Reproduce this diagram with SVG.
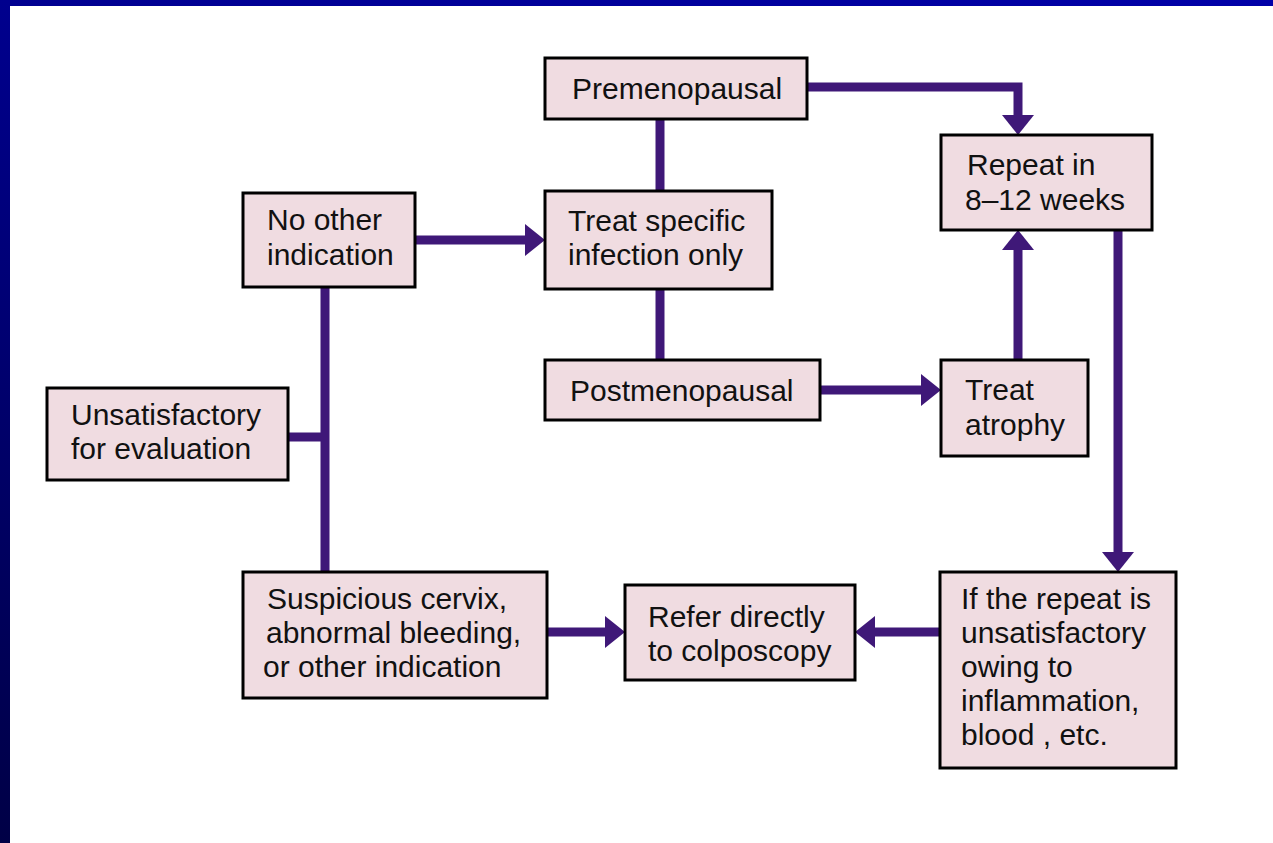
<svg xmlns="http://www.w3.org/2000/svg" width="1273" height="843" viewBox="0 0 1273 843">
<defs>
<linearGradient id="lg" x1="0" y1="0" x2="0" y2="1"><stop offset="0" stop-color="#00008e"/><stop offset="1" stop-color="#000046"/></linearGradient>
<linearGradient id="tg" x1="0" y1="0" x2="1" y2="0"><stop offset="0" stop-color="#000090"/><stop offset="1" stop-color="#0000a8"/></linearGradient>
<marker id="ah" viewBox="0 0 20 32" refX="0" refY="16" markerWidth="20" markerHeight="32" markerUnits="userSpaceOnUse" orient="auto"><path d="M0,0 L20,16 L0,32 Z" fill="#3f1878"/></marker>
<style>
.box{fill:#f0dce1;stroke:#000;stroke-width:3}
.t{font-family:"Liberation Sans",Arial,sans-serif;font-size:30px;fill:#111}
.c{fill:none;stroke:#3f1878;stroke-width:9}
</style>
</defs>
<rect width="1273" height="843" fill="#ffffff"/>
<rect x="0" y="0" width="1273" height="6" fill="url(#tg)"/>
<rect x="0" y="0" width="10" height="843" fill="url(#lg)"/>
<g id="connectors">
<path class="c" d="M807,87 H1018 V115" marker-end="url(#ah)"/>
<path class="c" d="M660,119 V191"/>
<path class="c" d="M660,289 V360"/>
<path class="c" d="M415,240 H525" marker-end="url(#ah)"/>
<path class="c" d="M325,287 V572"/>
<path class="c" d="M288,437 H325"/>
<path class="c" d="M820,390 H921" marker-end="url(#ah)"/>
<path class="c" d="M1018,360 V250" marker-end="url(#ah)"/>
<path class="c" d="M1118,230 V552" marker-end="url(#ah)"/>
<path class="c" d="M940,632 H875" marker-end="url(#ah)"/>
<path class="c" d="M547,632 H605" marker-end="url(#ah)"/>
</g>
<g id="premenopausal"><rect class="box" x="545" y="58" width="262" height="61"/><text class="t" x="572" y="99">Premenopausal</text></g>
<g id="no-other"><rect class="box" x="243" y="193" width="172" height="94"/><text class="t" x="267" y="230">No other</text><text class="t" x="267" y="265">indication</text></g>
<g id="treat-specific"><rect class="box" x="545" y="191" width="227" height="98"/><text class="t" x="568" y="231">Treat specific</text><text class="t" x="568" y="265">infection only</text></g>
<g id="repeat"><rect class="box" x="941" y="135" width="211" height="95"/><text class="t" x="967" y="175">Repeat in</text><text class="t" x="965" y="210">8–12 weeks</text></g>
<g id="postmenopausal"><rect class="box" x="545" y="360" width="275" height="60"/><text class="t" x="570" y="401">Postmenopausal</text></g>
<g id="treat-atrophy"><rect class="box" x="941" y="360" width="147" height="96"/><text class="t" x="965" y="400">Treat</text><text class="t" x="965" y="435">atrophy</text></g>
<g id="unsatisfactory"><rect class="box" x="47" y="388" width="241" height="92"/><text class="t" x="71" y="425">Unsatisfactory</text><text class="t" x="71" y="459">for evaluation</text></g>
<g id="suspicious"><rect class="box" x="243" y="572" width="304" height="126"/><text class="t" x="267" y="609">Suspicious cervix,</text><text class="t" x="266" y="643">abnormal bleeding,</text><text class="t" x="263" y="677">or other indication</text></g>
<g id="refer"><rect class="box" x="625" y="585" width="230" height="95"/><text class="t" x="648" y="627">Refer directly</text><text class="t" x="648" y="661">to colposcopy</text></g>
<g id="if-repeat"><rect class="box" x="940" y="572" width="236" height="196"/><text class="t" x="961" y="609">If the repeat is</text><text class="t" x="961" y="643">unsatisfactory</text><text class="t" x="961" y="677">owing to</text><text class="t" x="961" y="711">inflammation,</text><text class="t" x="961" y="745">blood , etc.</text></g>
</svg>
